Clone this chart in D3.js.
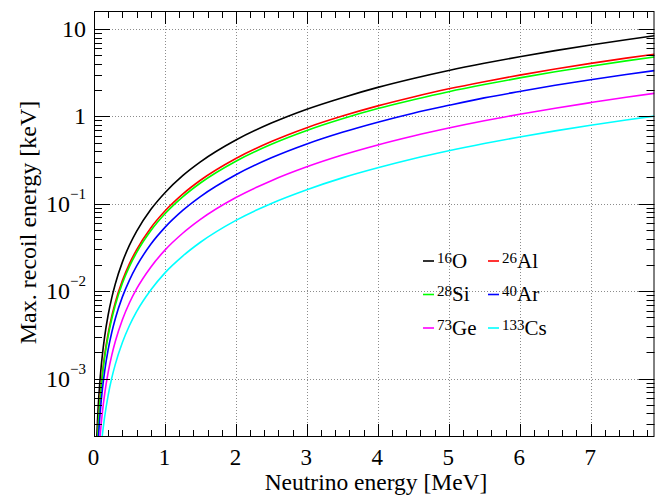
<!DOCTYPE html>
<html>
<head>
<meta charset="utf-8">
<script src="https://cdn.jsdelivr.net/npm/d3@7/dist/d3.min.js"></script>
<style>
  body { margin: 0; background: #fff; }
  text { font-family: "Liberation Serif", "Times New Roman", serif; fill: #000; }
</style>
</head>
<body>
<div id="chart"></div>
<script>
// neutrino energy [MeV]
const energies = [0.02, 0.03, 0.04, 0.05, 0.06, 0.08, 0.1, 0.12, 0.15, 0.2, 0.25, 0.3, 0.4, 0.5, 0.6, 0.8,
  1.0, 1.25, 1.5, 2, 2.5, 3, 3.5, 4, 4.5, 5, 5.5, 6, 6.5, 7, 7.5, 7.9];

// max. recoil energy [keV], one array per nucleus
const recoilO16 = [5.37e-5, 1.21e-4, 2.15e-4, 3.36e-4, 4.83e-4, 8.59e-4, 1.34e-3, 1.93e-3, 3.02e-3, 5.37e-3, 8.39e-3,
  0.0121, 0.0215, 0.0336, 0.0483, 0.0859, 0.134, 0.210, 0.302, 0.537, 0.839, 1.21, 1.64, 2.15, 2.72, 3.36, 4.06,
  4.83, 5.67, 6.58, 7.55, 8.38];
const recoilAl26 = [3.30e-5, 7.44e-5, 1.32e-4, 2.07e-4, 2.97e-4, 5.29e-4, 8.26e-4, 1.19e-3, 1.86e-3, 3.30e-3, 5.16e-3,
  7.44e-3, 0.0132, 0.0207, 0.0297, 0.0529, 0.0826, 0.129, 0.186, 0.330, 0.516, 0.744, 1.01, 1.32, 1.67, 2.07, 2.50,
  2.97, 3.49, 4.05, 4.65, 5.16];
const recoilSi28 = [3.07e-5, 6.91e-5, 1.23e-4, 1.92e-4, 2.76e-4, 4.91e-4, 7.68e-4, 1.11e-3, 1.73e-3, 3.07e-3, 4.80e-3,
  6.91e-3, 0.0123, 0.0192, 0.0276, 0.0491, 0.0768, 0.120, 0.173, 0.307, 0.480, 0.691, 0.940, 1.23, 1.55, 1.92, 2.32,
  2.76, 3.24, 3.76, 4.32, 4.79];
const recoilAr40 = [2.15e-5, 4.84e-5, 8.60e-5, 1.34e-4, 1.93e-4, 3.44e-4, 5.37e-4, 7.74e-4, 1.21e-3, 2.15e-3, 3.36e-3,
  4.84e-3, 8.60e-3, 0.0134, 0.0193, 0.0344, 0.0537, 0.0840, 0.121, 0.215, 0.336, 0.484, 0.658, 0.860, 1.09, 1.34, 1.63,
  1.93, 2.27, 2.63, 3.02, 3.35];
const recoilGe73 = [1.18e-5, 2.65e-5, 4.71e-5, 7.36e-5, 1.06e-4, 1.88e-4, 2.95e-4, 4.24e-4, 6.63e-4, 1.18e-3, 1.84e-3,
  2.65e-3, 4.71e-3, 7.36e-3, 0.0106, 0.0188, 0.0295, 0.0460, 0.0663, 0.118, 0.184, 0.265, 0.361, 0.471, 0.596, 0.736,
  0.891, 1.06, 1.24, 1.44, 1.66, 1.84];
const recoilCs133 = [6.46e-6, 1.45e-5, 2.58e-5, 4.04e-5, 5.82e-5, 1.03e-4, 1.62e-4, 2.33e-4, 3.63e-4, 6.46e-4, 1.01e-3,
  1.45e-3, 2.58e-3, 4.04e-3, 5.82e-3, 0.0103, 0.0162, 0.0252, 0.0363, 0.0646, 0.101, 0.145, 0.198, 0.258, 0.327, 0.404,
  0.489, 0.582, 0.683, 0.792, 0.909, 1.01];

const massNumbers = ['16', '26', '28', '40', '73', '133'];
const elements = ['O', 'Al', 'Si', 'Ar', 'Ge', 'Cs'];
const recoils = [recoilO16, recoilAl26, recoilSi28, recoilAr40, recoilGe73, recoilCs133];
const colors = ['#000000', '#ff0000', '#00ff00', '#0000ff', '#ff00ff', '#00ffff'];

const xTicks = [0, 1, 2, 3, 4, 5, 6, 7];
const yTicks = [1e-3, 1e-2, 1e-1, 1, 10];

const width = 655;
const height = 496;
const plotLeft = 94, plotRight = 654.5, plotTop = 11, plotBottom = 437;

const svg = d3.select('#chart')
              .append('svg')
              .attr('width', width)
              .attr('height', height);

const x = d3.scaleLinear().domain([0, 7.9]).range([plotLeft, plotRight]);
const y = d3.scaleLog().domain([2.14e-4, 16.1]).range([plotBottom, plotTop]);

svg.append('clipPath')
   .attr('id', 'plot-clip')
   .append('rect')
   .attr('x', plotLeft).attr('y', plotTop)
   .attr('width', plotRight - plotLeft).attr('height', plotBottom - plotTop);

// grid
const grid = svg.append('g')
                .attr('stroke', '#8c8c8c')
                .attr('stroke-width', 1)
                .attr('stroke-dasharray', '1,2');
grid.selectAll('.gx')
    .data(xTicks.filter((d) => d > 0))
    .enter()
    .append('line')
    .attr('x1', (d) => Math.round(x(d)) + 0.5)
    .attr('x2', (d) => Math.round(x(d)) + 0.5)
    .attr('y1', plotTop).attr('y2', plotBottom);
grid.selectAll('.gy')
    .data(yTicks)
    .enter()
    .append('line')
    .attr('y1', (d) => Math.round(y(d)) + 0.5)
    .attr('y2', (d) => Math.round(y(d)) + 0.5)
    .attr('x1', plotLeft).attr('x2', plotRight);

// curves
const line = d3.line()
               .x((d) => x(d[0]))
               .y((d) => y(d[1]))
               .curve(d3.curveMonotoneX);

const curves = svg.append('g').attr('clip-path', 'url(#plot-clip)');
recoils.forEach((values, i) => {
  curves.append('path')
        .datum(energies.map((e, j) => [e, values[j]]))
        .attr('fill', 'none')
        .attr('stroke', colors[i])
        .attr('stroke-width', 1.6)
        .attr('d', line);
});

// ticks (ROOT style, inside the frame)
const ticks = svg.append('g').attr('stroke', '#000').attr('stroke-width', 1);
const xMinor = d3.range(0, 40).map((i) => i * 0.2).filter((d) => d <= 7.9);
xMinor.forEach((d) => {
  const isMajor = Math.abs(d - Math.round(d)) < 1e-6;
  const px = Math.round(x(d)) + 0.5;
  const len = isMajor ? 13 : 7;
  ticks.append('line').attr('x1', px).attr('x2', px).attr('y1', plotBottom).attr('y2', plotBottom - len);
  ticks.append('line').attr('x1', px).attr('x2', px).attr('y1', plotTop).attr('y2', plotTop + len);
});

const yMinor = [];
for (let p = -4; p <= 1; p++) {
  for (let m = 1; m <= 9; m++) {
    const v = m * Math.pow(10, p);
    if (v >= y.domain()[0] && v <= y.domain()[1]) yMinor.push({ v: v, major: m === 1 });
  }
}
yMinor.forEach((d) => {
  const py = Math.round(y(d.v)) + 0.5;
  const len = d.major ? 16 : 8;
  ticks.append('line').attr('x1', plotLeft).attr('x2', plotLeft + len).attr('y1', py).attr('y2', py);
  ticks.append('line').attr('x1', plotRight).attr('x2', plotRight - len).attr('y1', py).attr('y2', py);
});

// frame
svg.append('rect')
   .attr('x', plotLeft + 0.5).attr('y', plotTop + 0.5)
   .attr('width', plotRight - plotLeft - 1).attr('height', plotBottom - plotTop - 1)
   .attr('fill', 'none')
   .attr('stroke', '#000')
   .attr('stroke-width', 1);

// x tick labels
svg.selectAll('.xlab')
   .data(xTicks)
   .enter()
   .append('text')
   .attr('x', (d) => x(d) - 0.5)
   .attr('y', 465)
   .attr('text-anchor', 'middle')
   .style('font-size', '23px')
   .text((d) => d);

// y tick labels
yTicks.forEach((v) => {
  const t = svg.append('text')
               .attr('x', 86)
               .attr('y', y(v) + 8)
               .attr('text-anchor', 'end')
               .style('font-size', '24px');
  const p = Math.round(Math.log10(v));
  if (p === 0) t.text('1');
  else if (p === 1) t.text('10');
  else {
    t.append('tspan').text('10');
    t.append('tspan').attr('dy', -13).style('font-size', '15px').text('\u2212' + (-p));
  }
});

// axis titles
svg.append('text')
   .attr('x', 376)
   .attr('y', 490)
   .attr('text-anchor', 'middle')
   .style('font-size', '23.5px')
   .text('Neutrino energy [MeV]');

svg.append('text')
   .attr('transform', 'translate(36,222.5) rotate(-90)')
   .attr('text-anchor', 'middle')
   .style('font-size', '24px')
   .text('Max. recoil energy [keV]');

// legend
const legendCols = [423, 488];
const legendRows = [261, 294.5, 328];
recoils.forEach((values, i) => {
  const lx = legendCols[i % 2];
  const ly = legendRows[Math.floor(i / 2)];
  const item = svg.append('g').attr('transform', 'translate(' + lx + ',' + ly + ')');
  item.append('line')
      .attr('x1', 0).attr('x2', 11)
      .attr('y1', 0).attr('y2', 0)
      .attr('stroke', colors[i])
      .attr('stroke-width', 1.6);
  const t = item.append('text').attr('x', 14).attr('y', 6.5).style('font-size', '21px');
  t.append('tspan').attr('dy', -5).style('font-size', '15px').text(massNumbers[i]);
  t.append('tspan').attr('dy', 5).text(elements[i]);
});
</script>
</body>
</html>
